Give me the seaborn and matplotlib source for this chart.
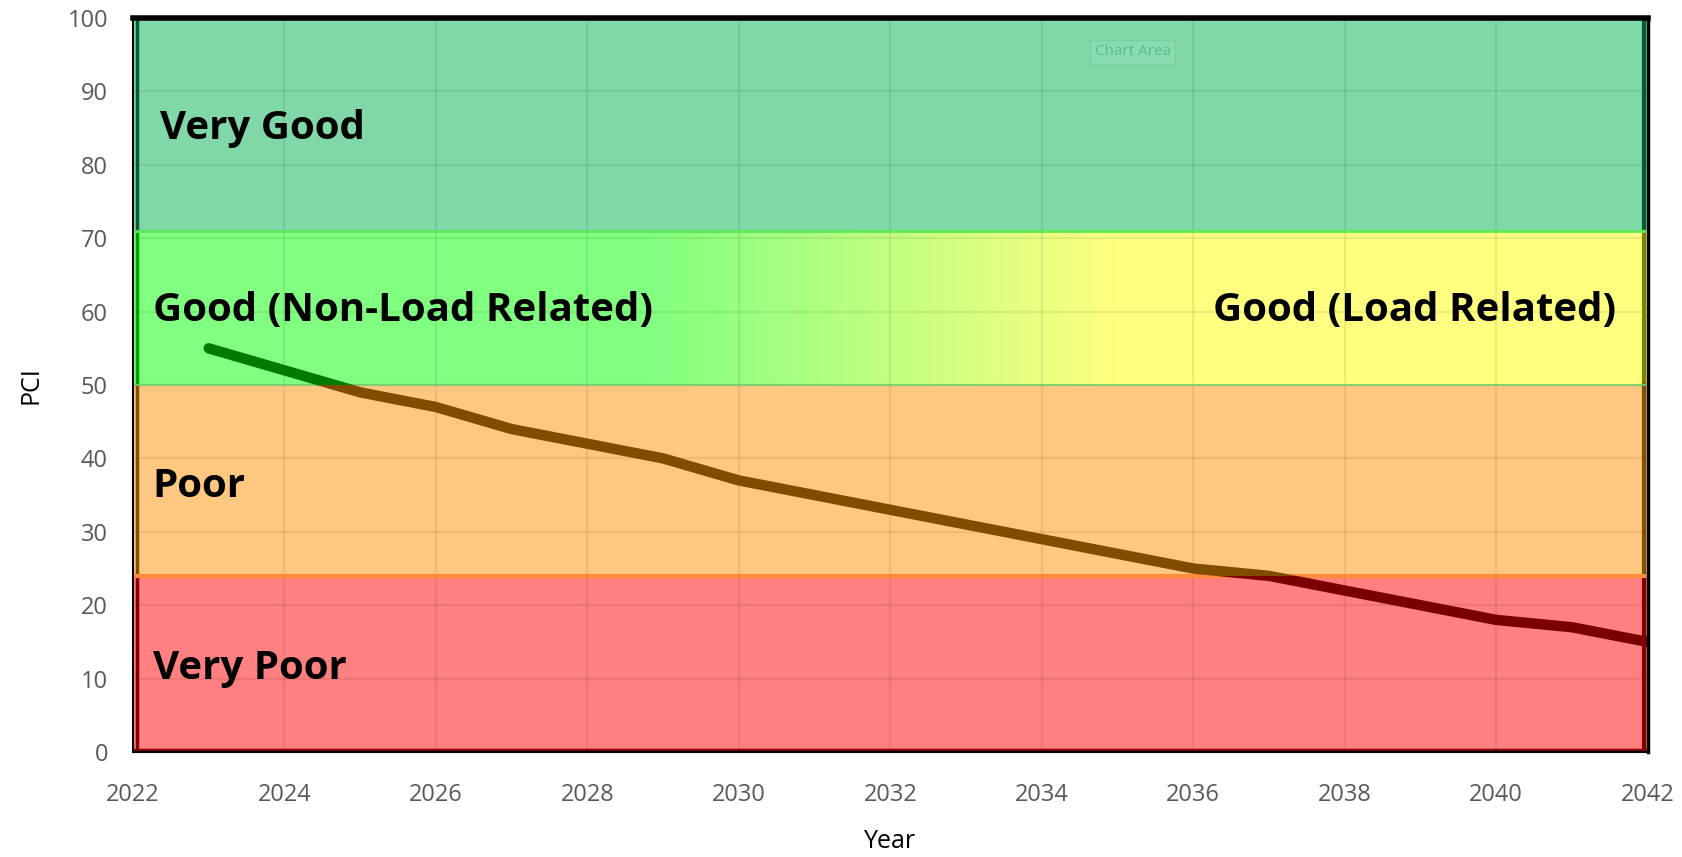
import numpy as np
import pandas as pd
import seaborn as sns
import matplotlib.pyplot as plt
from matplotlib.patches import Rectangle
from matplotlib.colors import LinearSegmentedColormap

sns.set_theme(style="ticks")
plt.rcParams['font.family'] = ['Open Sans', 'DejaVu Sans']

# data
years = [2023, 2024, 2025, 2026, 2027, 2028, 2029, 2030, 2031, 2032,
         2033, 2034, 2035, 2036, 2037, 2038, 2039, 2040, 2041, 2042]
pci = [55, 52, 49, 47, 44, 42, 40, 37, 35, 33,
       31, 29, 27, 25, 24, 22, 20, 18, 17, 15]

band_names = ["Very Good", "Good", "Poor", "Very Poor"]
band_low = [71, 50, 24, 0]
band_high = [100, 71, 50, 24]
band_colors = ["#80d8a8", None, "#ffc880", "#ff8080"]
band_edges = ["#005c2c", "#00a000", "#7f5000", "#800000"]
line_colors = ["#007a00", "#007a00", "#7f4c00", "#7a0000"]

x_ticks = list(range(2022, 2043, 2))
y_ticks = list(range(0, 101, 10))

df = pd.DataFrame({"Year": years, "PCI": pci})

fig = plt.figure(figsize=(16.83, 8.57), dpi=100)
ax = fig.add_axes([0.079, 0.1225, 0.900, 0.8565])
ax.set_xlim(2022, 2042)
ax.set_ylim(0, 100)

# bands
for i in range(len(band_names)):
    lo, hi = band_low[i], band_high[i]
    if band_colors[i] is None:
        cmap = LinearSegmentedColormap.from_list(
            "gy", [(0, "#80ff80"), (0.335, "#80ff80"), (0.65, "#ffff80"), (1, "#ffff80")])
        grad = np.linspace(0, 1, 400).reshape(1, -1)
        ax.imshow(grad, cmap=cmap, extent=[2022, 2042, lo, hi], aspect="auto",
                  zorder=1, interpolation="bilinear")
    else:
        ax.add_patch(Rectangle((2022, lo), 20, hi - lo, facecolor=band_colors[i],
                               edgecolor="none", zorder=1))
    ax.plot([2022.05, 2022.05], [lo, hi], color=band_edges[i], lw=2.5, zorder=3)
    right_edge = "#808000" if band_colors[i] is None else band_edges[i]
    ax.plot([2041.95, 2041.95], [lo, hi], color=right_edge, lw=3, zorder=3)

ax.axhline(71, color="#5ce65c", lw=2, zorder=3)
ax.axhline(50, color="#70d070", lw=1.2, zorder=3)
ax.axhline(24, color="#ff8c3c", lw=3, zorder=3)
ax.axhline(0.3, color="#800000", lw=2.5, zorder=3)

# grid
ax.set_xticks(x_ticks)
ax.set_yticks(y_ticks)
ax.grid(True, color="black", alpha=0.07, lw=1.6, zorder=2)
ax.set_axisbelow(False)
for gl in ax.get_xgridlines() + ax.get_ygridlines():
    gl.set_zorder(2)

# line, coloured by band
for i in range(len(band_names)):
    sns.lineplot(data=df, x="Year", y="PCI", ax=ax, color=line_colors[i],
                 lw=7.5, zorder=4, legend=False)
    ln = ax.lines[-1]
    ln.set_solid_capstyle("round")
    ln.set_solid_joinstyle("round")
    clip = Rectangle((2021, band_low[i]), 21, band_high[i] - band_low[i],
                     transform=ax.transData, facecolor="none", edgecolor="none")
    ax.add_patch(clip)
    ln.set_clip_path(clip)

# band labels
lab_kw = dict(fontsize=29, fontweight="bold", color="black", va="center", zorder=5)
ax.text(2022.36, 85.0, "Very Good", ha="left", **lab_kw)
ax.text(2022.26, 60.1, "Good (Non-Load Related)", ha="left", **lab_kw)
ax.text(2041.59, 60.1, "Good (Load Related)", ha="right", **lab_kw)
ax.text(2022.26, 36.2, "Poor", ha="left", **lab_kw)
ax.text(2022.26, 11.4, "Very Poor", ha="left", **lab_kw)

# faint "Chart Area" tooltip
ax.text(2035.2, 95.4, "Chart Area", fontsize=11, color="#60b888", ha="center", va="center",
        zorder=5, bbox=dict(boxstyle="square,pad=0.3", facecolor="#90e0b8",
                            edgecolor="#70c898", alpha=0.6))

# spines
for s in ["left", "bottom"]:
    ax.spines[s].set_color("black")
    ax.spines[s].set_linewidth(1.5)
ax.spines["top"].set_color("black")
ax.spines["top"].set_linewidth(4)
ax.spines["right"].set_color("black")
ax.spines["right"].set_linewidth(2.5)
for s in ax.spines.values():
    s.set_zorder(6)

ax.tick_params(axis="both", length=0, labelsize=17, labelcolor="#595959")
ax.tick_params(axis="x", pad=22)
ax.tick_params(axis="y", pad=18)
ax.set_xlabel("Year", fontsize=18, color="black", labelpad=16)
ax.set_ylabel("PCI", fontsize=18, color="black", labelpad=17)

fig.savefig("out.png", dpi=100)
